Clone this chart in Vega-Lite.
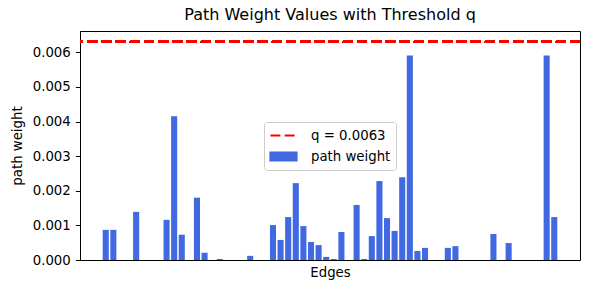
{
  "$schema": "https://vega.github.io/schema/vega-lite/v6.json",
  "width": 500,
  "height": 229,
  "autosize": {"type": "none"},
  "padding": {"left": 80, "top": 31, "right": 10, "bottom": 30},
  "background": "white",
  "config": {
    "font": "DejaVu Sans",
    "view": {"stroke": "black", "strokeWidth": 1},
    "axis": {"domainColor": "black", "tickColor": "black", "labelColor": "black", "titleColor": "black", "labelFont": "DejaVu Sans", "titleFont": "DejaVu Sans", "labelFontSize": 13.3, "titleFontSize": 13.3, "titleFontWeight": "normal", "grid": false},
    "axisY": {"labelOverlap": false, "values": [0, 0.001, 0.002, 0.003, 0.004, 0.005, 0.006], "format": ".3f", "tickSize": 4.7, "labelPadding": 5, "titlePadding": 8}
  },
  "title": {"text": "Path Weight Values with Threshold q", "fontSize": 16, "fontWeight": "normal", "font": "DejaVu Sans", "color": "black", "anchor": "middle", "offset": 8},
  "data": {"values": [
    {"edge": 0, "w": 0.00087}, {"edge": 1, "w": 0.00087}, {"edge": 2, "w": 0}, {"edge": 3, "w": 0},
    {"edge": 4, "w": 0.00139}, {"edge": 5, "w": 0}, {"edge": 6, "w": 0}, {"edge": 7, "w": 0},
    {"edge": 8, "w": 0.00116}, {"edge": 9, "w": 0.00415}, {"edge": 10, "w": 0.00073}, {"edge": 11, "w": 0},
    {"edge": 12, "w": 0.0018}, {"edge": 13, "w": 0.00021}, {"edge": 14, "w": 0}, {"edge": 15, "w": 0.00003},
    {"edge": 16, "w": 0}, {"edge": 17, "w": 0}, {"edge": 18, "w": 0}, {"edge": 19, "w": 0.00012},
    {"edge": 20, "w": 0}, {"edge": 21, "w": 0}, {"edge": 22, "w": 0.00101}, {"edge": 23, "w": 0.00058},
    {"edge": 24, "w": 0.00124}, {"edge": 25, "w": 0.00222}, {"edge": 26, "w": 0.00098}, {"edge": 27, "w": 0.00052},
    {"edge": 28, "w": 0.00043}, {"edge": 29, "w": 0.00009}, {"edge": 30, "w": 0.00003}, {"edge": 31, "w": 0.00081},
    {"edge": 32, "w": 0}, {"edge": 33, "w": 0.00159}, {"edge": 34, "w": 0.00003}, {"edge": 35, "w": 0.00069},
    {"edge": 36, "w": 0.00228}, {"edge": 37, "w": 0.00121}, {"edge": 38, "w": 0.00084}, {"edge": 39, "w": 0.00239},
    {"edge": 40, "w": 0.00591}, {"edge": 41, "w": 0.00026}, {"edge": 42, "w": 0.00035}, {"edge": 43, "w": 0},
    {"edge": 44, "w": 0}, {"edge": 45, "w": 0.00035}, {"edge": 46, "w": 0.0004}, {"edge": 47, "w": 0},
    {"edge": 48, "w": 0}, {"edge": 49, "w": 0}, {"edge": 50, "w": 0}, {"edge": 51, "w": 0.00075},
    {"edge": 52, "w": 0}, {"edge": 53, "w": 0.00049}, {"edge": 54, "w": 0}, {"edge": 55, "w": 0},
    {"edge": 56, "w": 0}, {"edge": 57, "w": 0}, {"edge": 58, "w": 0.00591}, {"edge": 59, "w": 0.00124}
  ]},
  "layer": [
    {
      "mark": {"type": "bar"},
      "encoding": {
        "x": {"field": "edge", "type": "ordinal", "scale": {"paddingInner": 0.2, "paddingOuter": 0, "range": [22.7, 477.3]},
              "axis": {"title": "Edges", "labels": false, "ticks": false, "titlePadding": 5}},
        "y": {"field": "w", "type": "quantitative", "scale": {"domain": [0, 0.006615], "nice": false, "zero": true},
              "axis": {"title": "path weight", "values": [0, 0.001, 0.002, 0.003, 0.004, 0.005, 0.006], "labelOverlap": false}},
        "color": {"datum": "path weight", "type": "nominal",
          "scale": {"domain": ["q = 0.0063", "path weight"], "range": ["#ff0000", "#4169E1"]},
          "legend": {
            "title": null, "orient": "none", "legendX": 184, "legendY": 91,
            "symbolSize": 676, "clipHeight": 17, "rowPadding": 4, "labelOffset": 13,
            "labelFontSize": 13.3, "labelFont": "DejaVu Sans", "labelColor": "black",
            "padding": 5, "fillColor": "white", "strokeColor": "#cccccc", "cornerRadius": 3,
            "encode": {
              "symbols": {"update": {
                "shape": {"signal": "datum.value === 'q = 0.0063' ? 'M-1,0H1' : 'M-1,-0.3H1V0.3H-1Z'"},
                "fill": {"signal": "datum.value === 'q = 0.0063' ? 'transparent' : '#4169E1'"},
                "stroke": {"signal": "datum.value === 'q = 0.0063' ? '#ff0000' : 'transparent'"},
                "strokeWidth": {"value": 2.2},
                "strokeDash": {"signal": "datum.value === 'q = 0.0063' ? [9.9, 4.3] : []"},
                "opacity": {"value": 1}
              }}
            }
          }
        }
      }
    },
    {
      "mark": {"type": "rule", "strokeWidth": 2.2, "strokeDash": [9.9, 4.3]},
      "encoding": {
        "y": {"datum": 0.0063, "type": "quantitative", "axis": {"title": "path weight", "values": [0, 0.001, 0.002, 0.003, 0.004, 0.005, 0.006], "labelOverlap": false}},
        "color": {"datum": "q = 0.0063", "type": "nominal"}
      }
    }
  ]
}
